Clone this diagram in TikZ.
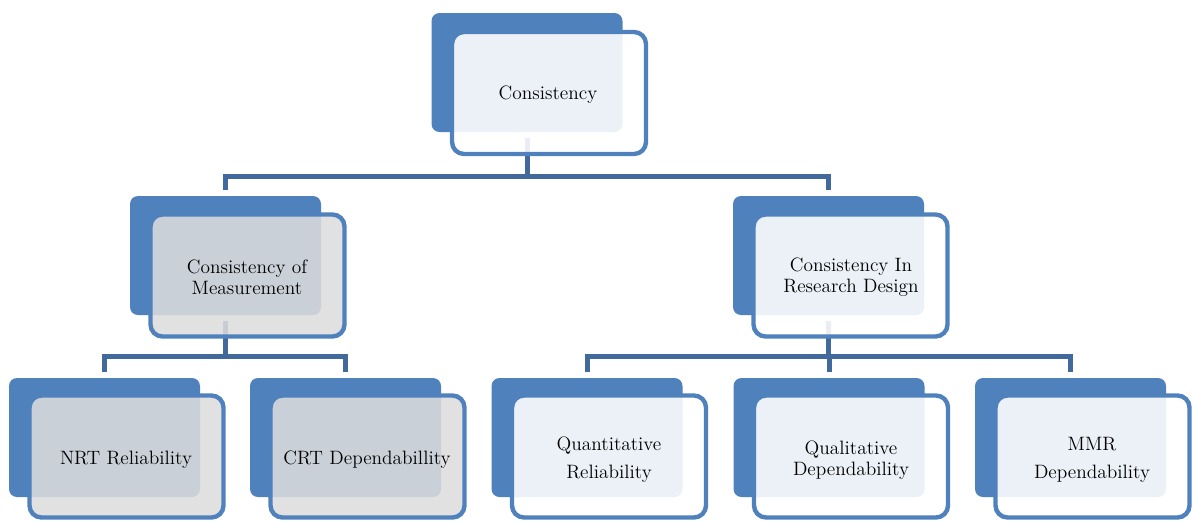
\documentclass[tikz,border=0pt]{standalone}
\begin{document}
\begin{tikzpicture}[x=0.75pt,y=-0.75pt,
  backbox/.style={rectangle, rounded corners=6pt, fill=boxblue, inner sep=0pt,
    minimum width=143.25pt, minimum height=89.25pt},
  frontbox/.style={rectangle, rounded corners=9pt, draw=boxblue, line width=3.3pt,
    inner sep=0pt, minimum width=145.5pt, minimum height=91.5pt},
  lightfill/.style={frontbox, fill=white, fill opacity=0.89, draw opacity=1},
  grayfill/.style={frontbox, fill=graybox, fill opacity=0.87, draw opacity=1},
  conn/.style={draw=connblue, line width=3.75pt, shorten <=4.5pt, shorten >=4.5pt},
  txt/.style={align=center, text=black, font=\fontsize{14.5}{16}\selectfont},
  txtwide/.style={align=center, text=black, font=\fontsize{14.5}{21}\selectfont}
]
\definecolor{boxblue}{HTML}{4F81BD}
\definecolor{connblue}{HTML}{41699C}
\definecolor{graybox}{HTML}{DCDCDC}
\useasboundingbox (0,0) rectangle (1194,521);
% back boxes
\node[backbox] (top) at (527,72.5) {};
\node[backbox] (ml) at (225.5,255.5) {};
\node[backbox] (mr) at (828.5,255.5) {};
\node[backbox] (b1) at (104.5,437.5) {};
\node[backbox] (b2) at (345.5,437.5) {};
\node[backbox] (b3) at (587,437.5) {};
\node[backbox] (b4) at (829,437.5) {};
\node[backbox] (b5) at (1070.5,437.5) {};
% connectors
\draw[conn] (top.south) -- ++(0,44) -| (ml.north);
\draw[conn] (top.south) -- ++(0,44) -| (mr.north);
\draw[conn] (ml.south) -- ++(0,41) -| (b1.north);
\draw[conn] (ml.south) -- ++(0,41) -| (b2.north);
\draw[conn] (mr.south) -- ++(0,41) -| (b3.north);
\draw[conn] (mr.south) -- ++(0,41) -| (b4.north);
\draw[conn] (mr.south) -- ++(0,41) -| (b5.north);
% front boxes
\node[lightfill] (ftop) at (549,93) {};
\node[grayfill] (fml) at (247.5,275.5) {};
\node[lightfill] (fmr) at (850.5,275.5) {};
\node[grayfill] (fb1) at (126.5,456.5) {};
\node[grayfill] (fb2) at (367.5,456.5) {};
\node[lightfill] (fb3) at (609,456.5) {};
\node[lightfill] (fb4) at (851,456.5) {};
\node[lightfill] (fb5) at (1092.5,456.5) {};
% texts
\node[txt] (ttop) at (548,95) {Consistency};
\node[txt] (tml) at (247,277) {Consistency of\\Measurement};
\node[txt] (tmr) at (851,277) {Consistency In\\Research Design};
\node[txt] (tb1) at (126,460) {NRT Reliability};
\node[txt] (tb2) at (367,460) {CRT Dependabillity};
\node[txtwide] (tb3) at (609,460) {Quantitative\\Reliability};
\node[txt] (tb4) at (851,460) {Qualitative\\Dependability};
\node[txtwide] (tb5) at (1092,460) {MMR\\Dependability};
\end{tikzpicture}
\end{document}
